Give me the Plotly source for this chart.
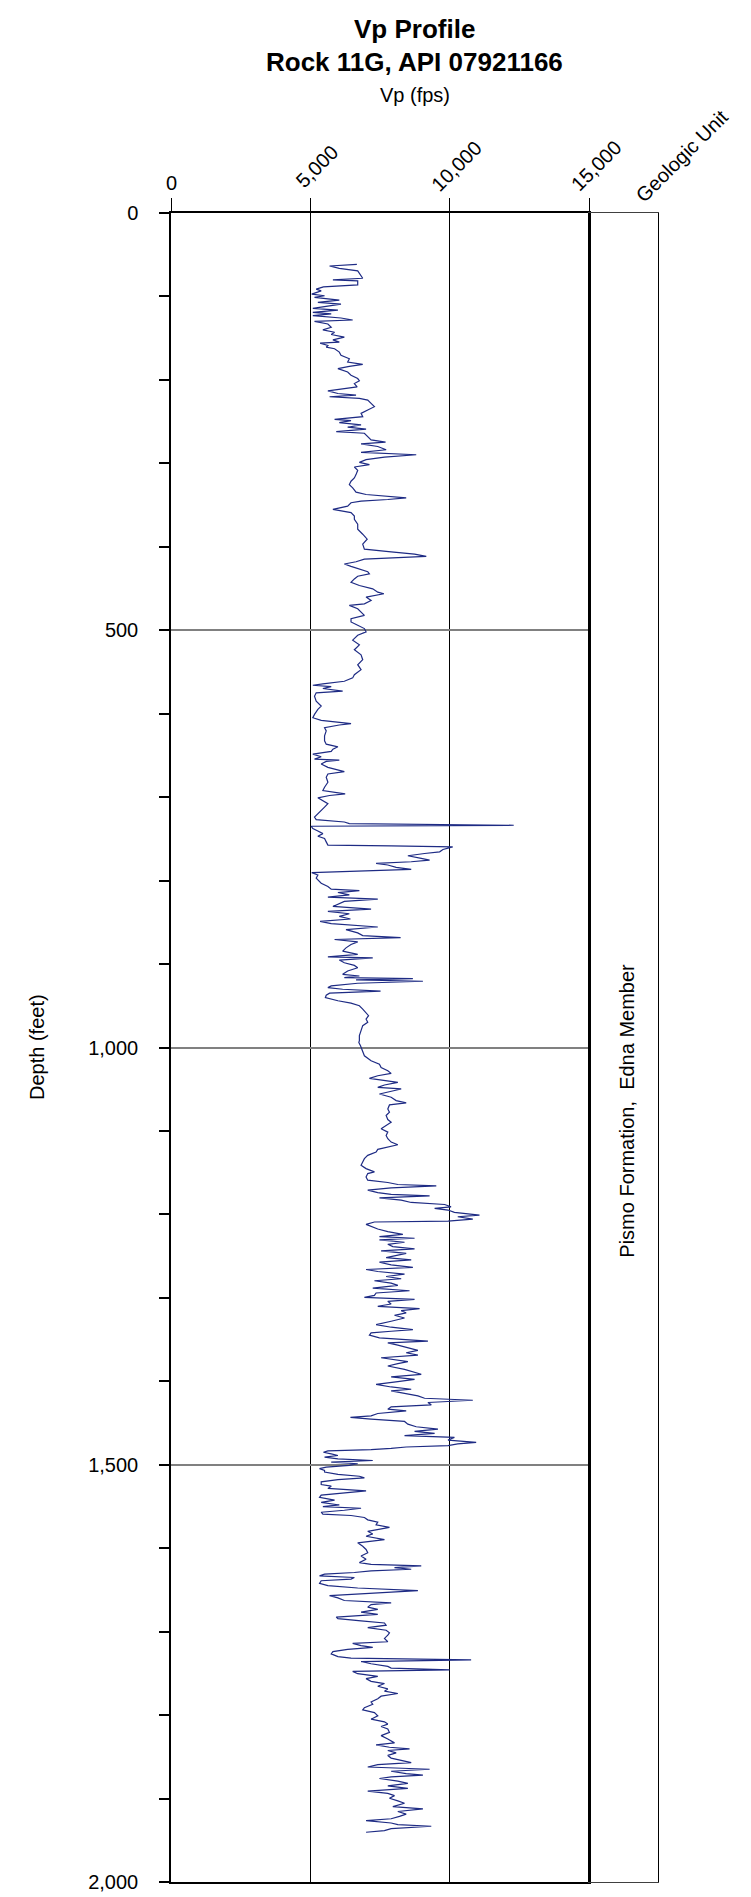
import plotly.graph_objects as go

# ---------------- data: (depth ft, Vp fps) ----------------
vp_log_0_515 = [
    (61.5, 6670), (63.5, 5690), (66.3, 6040), (69.4, 6700), (78.2, 6880), (80.2, 5810), (81.3, 6700),
    (86.1, 6700), (88.5, 5470), (91.3, 5210), (93.3, 5390), (97.2, 5050), (99.2, 5510), (101.2, 5150),
    (104.4, 6040), (107.1, 5270), (109.1, 6100), (112.3, 5510), (114.3, 5090), (116.3, 5990), (119.0, 5090),
    (121.0, 5750), (123.0, 5090), (125.8, 6100), (128.2, 6520), (129.8, 5150), (133.0, 5630), (136.9, 5750),
    (140.1, 5450), (142.9, 5870), (145.6, 5750), (148.8, 6220), (152.0, 5810), (154.8, 6040), (156.0, 5350),
    (158.7, 5630), (160.7, 5570), (162.7, 5870), (166.7, 6040), (170.6, 6100), (174.6, 6400), (178.6, 6340),
    (181.3, 6880), (183.7, 6400), (186.5, 5990), (190.5, 6340), (194.4, 6460), (198.4, 6700), (201.2, 6760),
    (204.4, 6580), (208.3, 6680), (213.1, 5630), (216.3, 5990), (218.3, 6640), (220.2, 5690), (222.2, 6760),
    (224.2, 7060), (228.2, 7180), (232.1, 7300), (236.1, 7060), (240.1, 6820), (244.0, 6880), (247.2, 5870),
    (248.8, 6460), (251.2, 6040), (254.0, 6820), (256.7, 6340), (259.1, 7000), (261.9, 5930), (263.9, 6940),
    (267.9, 7060), (271.8, 7180), (274.6, 7700), (276.6, 6820), (279.8, 7420), (283.7, 7720), (286.9, 6820),
    (289.7, 8800), (292.5, 7660), (295.6, 7000), (298.8, 6760), (301.6, 7120), (304.4, 6580), (308.3, 6700),
    (313.5, 6640), (317.5, 6580), (321.4, 6460), (325.4, 6400), (329.4, 6520), (334.5, 6640), (337.3, 7000),
    (339.3, 7660), (341.3, 8440), (343.3, 7780), (345.2, 6820), (347.2, 6460), (351.2, 6340), (355.2, 5810),
    (357.1, 6100), (359.1, 6460), (363.1, 6580), (367.1, 6580), (373.0, 6700), (379.0, 6700), (384.9, 6880),
    (390.9, 7040), (396.8, 6880), (402.8, 6940), (406.0, 7900), (408.7, 8740), (411.5, 9160), (414.7, 6940),
    (417.9, 6640), (420.6, 6220), (423.4, 6460), (426.6, 6760), (429.8, 7060), (432.5, 7120), (435.3, 6700),
    (438.5, 6580), (442.5, 6460), (446.4, 6760), (450.4, 7240), (454.4, 7420), (456.3, 7640), (460.3, 7000),
    (464.3, 7180), (468.3, 6940), (470.2, 6400), (474.2, 6700), (478.2, 6820), (482.1, 6940), (486.1, 6460),
    (490.1, 6460), (494.0, 6700), (498.0, 6940), (502.0, 7000), (506.0, 6700), (511.9, 6520),
]

vp_log_515_995 = [
    (517.5, 6760), (523.4, 6580), (529.4, 6820), (535.3, 6880), (541.3, 6700), (547.2, 6820), (553.2, 6580),
    (557.1, 6520), (561.1, 6220), (564.3, 5450), (565.9, 5090), (567.5, 5750), (569.8, 5450), (573.0, 6160),
    (575.0, 5210), (579.0, 5150), (584.9, 5210), (590.9, 5390), (594.8, 5270), (600.8, 5150), (604.8, 5090),
    (607.9, 5390), (610.7, 6100), (611.9, 6460), (613.5, 6040), (616.7, 5510), (620.6, 5570), (626.6, 5510),
    (632.5, 5510), (636.5, 5570), (639.7, 5990), (642.5, 5810), (645.2, 5750), (648.4, 5090), (651.6, 5390),
    (654.4, 5150), (655.6, 6040), (657.1, 5570), (660.3, 5390), (664.3, 5630), (669.4, 6220), (672.2, 5630),
    (676.2, 5570), (682.1, 5630), (688.1, 5510), (692.1, 5450), (696.0, 6250), (698.0, 5690), (700.8, 5270),
    (704.0, 5450), (707.9, 5630), (711.9, 5510), (715.9, 5390), (719.8, 5270), (723.8, 5150), (727.0, 5210),
    (729.8, 6220), (731.7, 6400), (733.7, 12300), (734.9, 5030), (737.7, 5090), (740.5, 5270), (743.7, 5450),
    (746.8, 5270), (749.6, 5510), (753.6, 5570), (757.5, 5630), (758.3, 7900), (759.5, 10110), (762.7, 9760),
    (765.5, 9640), (767.5, 9100), (770.2, 8500), (773.4, 8980), (775.4, 9280), (777.4, 8620), (779.4, 7360),
    (781.3, 7780), (784.1, 8080), (786.5, 8620), (789.3, 5510), (790.5, 5050), (793.3, 5270), (797.2, 5210),
    (803.2, 5390), (807.1, 5630), (810.3, 5750), (811.9, 6760), (814.3, 5990), (817.1, 6400), (819.8, 5630),
    (822.2, 7420), (825.0, 6220), (827.8, 6040), (831.0, 5810), (834.1, 7180), (836.9, 5630), (839.7, 6400),
    (842.9, 6040), (846.0, 6440), (848.8, 5350), (851.6, 5750), (855.6, 7420), (858.7, 6280), (862.7, 6700),
    (865.9, 6880), (868.3, 8240), (870.6, 5870), (873.4, 6700), (876.6, 6460), (880.6, 6280), (884.5, 6160),
    (888.5, 6700), (891.3, 5630), (892.5, 7240), (895.2, 6040), (898.4, 6220), (901.6, 6580), (904.4, 6700),
    (908.3, 6340), (912.3, 6160), (914.3, 6760), (916.3, 6220), (917.5, 8680), (919.0, 6640), (920.6, 9040),
    (923.0, 6700), (926.2, 5750), (928.2, 5630), (930.2, 6160), (932.5, 7520), (934.9, 5690), (937.3, 5570),
    (940.1, 5540), (944.0, 5990), (946.8, 6460), (950.0, 6760), (954.0, 6880), (957.9, 7000), (961.9, 7090),
    (965.9, 7000), (969.8, 7060), (973.8, 6880), (979.8, 6820), (985.7, 6760), (991.7, 6760),
]

vp_log_995_1472 = [
    (994.0, 6740), (998.0, 6800), (1004.0, 6880), (1009.9, 6940), (1015.9, 7180), (1019.9, 7480),
    (1023.9, 7540), (1027.8, 7780), (1031.0, 7900), (1033.8, 7420), (1037.0, 7120), (1039.8, 7660),
    (1041.7, 8140), (1044.9, 7660), (1047.7, 7420), (1049.7, 8260), (1052.9, 7780), (1055.7, 7480),
    (1059.6, 7900), (1063.6, 8080), (1066.4, 8440), (1068.8, 7840), (1073.6, 7780), (1077.5, 7840),
    (1081.5, 7720), (1086.3, 7780), (1089.5, 7900), (1093.4, 7720), (1097.4, 7540), (1101.4, 7780),
    (1105.4, 7720), (1109.3, 7780), (1113.3, 7900), (1116.5, 8140), (1119.3, 7780), (1122.1, 7420),
    (1125.2, 7360), (1129.2, 7060), (1133.2, 6940), (1137.2, 6880), (1141.2, 6820), (1145.1, 7000),
    (1149.1, 7300), (1151.1, 7060), (1155.1, 7000), (1159.0, 7060), (1161.8, 7780), (1164.2, 8140),
    (1165.8, 9520), (1168.2, 7900), (1171.0, 7060), (1173.8, 7420), (1176.1, 7900), (1177.7, 9280),
    (1180.1, 7480), (1182.9, 8260), (1185.7, 8620), (1188.1, 9820), (1190.9, 10050), (1192.8, 9460),
    (1194.8, 9940), (1197.6, 10170), (1200.0, 10770), (1200.8, 11070), (1202.8, 10290), (1205.6, 10830),
    (1208.0, 9940), (1209.1, 7300), (1211.9, 7000), (1214.7, 7240), (1217.5, 7420), (1220.7, 7780),
    (1223.9, 8320), (1226.6, 7480), (1228.6, 8740), (1230.6, 7480), (1233.4, 8380), (1235.8, 7780),
    (1238.6, 7960), (1241.4, 8740), (1243.8, 7540), (1246.6, 8440), (1249.3, 8020), (1251.7, 7720),
    (1254.5, 8620), (1257.3, 7480), (1260.4, 7900), (1263.6, 8680), (1266.0, 7000), (1268.4, 7420),
    (1271.6, 8380), (1274.4, 7720), (1277.1, 8260), (1279.5, 7300), (1282.3, 7900), (1285.1, 8140),
    (1288.3, 7240), (1291.5, 8560), (1294.2, 7360), (1297.0, 7300), (1299.4, 6940), (1301.8, 8740),
    (1304.2, 7780), (1307.4, 7900), (1310.1, 7420), (1312.9, 8920), (1315.3, 8260), (1318.1, 8440),
    (1320.9, 8020), (1324.1, 8380), (1328.0, 7900), (1332.0, 7360), (1335.2, 7900), (1338.0, 8680),
    (1340.0, 7900), (1341.9, 7180), (1344.7, 7120), (1347.9, 7480), (1351.9, 9220), (1353.9, 7780),
    (1356.7, 8140), (1359.8, 8500), (1363.0, 8860), (1365.8, 8440), (1368.6, 8860), (1371.8, 7540),
    (1373.8, 8020), (1376.5, 8500), (1378.9, 8140), (1381.7, 7780), (1385.7, 8380), (1388.5, 8680),
    (1391.6, 8980), (1394.8, 7900), (1397.6, 8740), (1400.4, 8140), (1403.6, 7360), (1406.8, 7900),
    (1409.5, 8620), (1411.5, 7900), (1414.7, 8380), (1417.5, 8860), (1420.3, 9100), (1422.7, 10830),
    (1425.4, 9220), (1428.2, 9340), (1430.6, 7900), (1433.4, 7780), (1435.4, 8440), (1438.6, 7420),
    (1441.4, 7180), (1443.3, 6440), (1445.3, 7180), (1448.1, 8380), (1451.3, 8500), (1454.5, 8800),
    (1457.3, 9580), (1460.1, 8740), (1462.4, 9460), (1465.2, 8380), (1467.2, 10170), (1470.4, 9940),
]

vp_log_1472_1941 = [
    (1473.1, 10950), (1475.1, 10290), (1477.1, 9940), (1478.7, 8440), (1480.3, 7900), (1481.8, 7180),
    (1483.4, 5630), (1485.0, 5470), (1487.0, 5750), (1488.9, 5990), (1490.9, 5510), (1492.9, 5990),
    (1494.9, 7240), (1496.8, 5750), (1498.8, 6700), (1500.8, 6400), (1502.8, 5570), (1504.7, 5330),
    (1506.7, 5510), (1508.7, 5510), (1511.5, 5990), (1513.8, 6760), (1515.8, 6940), (1517.8, 5990),
    (1520.5, 5390), (1523.7, 5390), (1525.7, 5750), (1528.4, 5630), (1531.2, 7000), (1533.6, 6220),
    (1536.3, 5390), (1539.1, 5330), (1542.3, 5870), (1545.0, 5390), (1548.2, 6040), (1550.2, 5450),
    (1552.1, 6820), (1554.5, 6220), (1556.9, 5390), (1559.2, 5450), (1560.8, 6460), (1563.2, 6940),
    (1566.0, 7060), (1568.7, 7420), (1571.9, 7360), (1575.0, 7840), (1577.8, 7420), (1579.8, 7060),
    (1582.9, 7240), (1585.7, 7000), (1589.7, 7660), (1593.6, 6700), (1597.6, 6880), (1601.5, 7000),
    (1605.5, 7060), (1609.4, 6820), (1613.3, 7000), (1617.3, 6760), (1619.3, 7180), (1621.2, 8980),
    (1623.2, 8020), (1625.2, 8620), (1627.2, 7180), (1629.1, 6580), (1631.1, 5510), (1633.1, 5330),
    (1635.1, 6580), (1637.0, 6460), (1639.0, 5390), (1642.2, 5330), (1644.9, 5630), (1647.7, 6700),
    (1650.9, 8860), (1654.0, 6940), (1656.8, 5690), (1659.6, 5990), (1662.7, 6220), (1665.5, 7900),
    (1667.5, 7180), (1670.6, 7060), (1673.4, 7420), (1676.5, 6820), (1679.3, 7420), (1682.5, 5930),
    (1684.4, 5990), (1687.2, 6820), (1689.6, 7660), (1692.3, 7720), (1695.1, 7060), (1698.3, 7720),
    (1701.4, 7840), (1704.2, 7780), (1708.1, 7660), (1712.1, 7780), (1714.1, 6520), (1716.8, 6820),
    (1718.8, 7240), (1721.2, 6340), (1723.9, 5810), (1726.7, 5750), (1729.9, 5990), (1731.8, 6460),
    (1733.8, 10770), (1735.8, 6820), (1738.5, 7180), (1741.7, 7780), (1743.7, 7900), (1745.7, 10000),
    (1747.6, 6520), (1750.4, 6700), (1753.6, 7420), (1756.3, 7000), (1759.5, 7180), (1762.2, 7660),
    (1765.4, 7420), (1768.6, 7780), (1771.3, 7660), (1774.1, 8140), (1777.3, 7540), (1780.4, 7420),
    (1784.4, 7180), (1787.1, 7240), (1791.1, 6940), (1793.8, 6880), (1797.0, 7300), (1800.9, 7420),
    (1804.9, 7180), (1808.1, 7660), (1810.8, 7780), (1813.6, 7540), (1816.7, 7780), (1820.7, 7840),
    (1824.6, 7540), (1828.6, 7780), (1833.3, 8020), (1835.7, 7360), (1838.5, 7840), (1840.4, 8560),
    (1842.4, 7780), (1845.2, 8080), (1848.3, 7780), (1851.5, 7900), (1854.3, 8260), (1857.0, 8620),
    (1859.4, 7420), (1862.2, 7060), (1864.9, 9280), (1867.3, 7900), (1870.1, 8440), (1872.0, 9040),
    (1874.0, 7900), (1876.0, 7480), (1879.1, 8140), (1881.9, 8500), (1884.7, 7780), (1887.8, 8500),
    (1891.0, 7060), (1893.8, 7780), (1896.5, 8020), (1899.7, 7840), (1902.8, 8140), (1905.6, 8380),
    (1909.6, 7960), (1912.3, 9040), (1915.5, 8140), (1918.6, 8440), (1921.4, 8200), (1924.2, 7900),
    (1926.5, 7000), (1929.3, 7900), (1931.3, 8140), (1933.2, 9340), (1936.0, 7900), (1938.4, 7660),
    (1940.4, 7000),
]

vp_tick_values = [0, 5000, 10000, 15000]
vp_tick_labels = ["0", "5,000", "10,000", "15,000"]
depth_tick_values = [0, 500, 1000, 1500, 2000]
depth_tick_labels = ["0", "500", "1,000", "1,500", "2,000"]
geologic_unit = "Pismo Formation,  Edna Member"

# ---------------- assemble ----------------
segments = [vp_log_0_515, vp_log_515_995, vp_log_995_1472, vp_log_1472_1941]
depth = [d for seg in segments for d, _ in seg]
vp = [v for seg in segments for _, v in seg]

W, H = 751, 1897
L, R, T, B = 163, 650, 205, 1882
X_SPLIT = 581


def pyp(px):
    return 1 - (px - T) / (B - T)


def pxp(px):
    return (px - L) / (R - L)


FONT = "Arial, 'Liberation Sans', sans-serif"

fig = go.Figure()
fig.add_trace(go.Scatter(
    x=vp, y=depth, mode="lines",
    line=dict(color="#1E2B84", width=1.2),
    xaxis="x", yaxis="y", showlegend=False, hoverinfo="skip",
))
# empty trace so that the geologic-unit column is drawn
fig.add_trace(go.Scatter(x=[], y=[], mode="lines", xaxis="x2", yaxis="y2",
                         showlegend=False, hoverinfo="skip"))

minor_depths = [d for d in range(0, 2001, 100) if d % 500 != 0]

fig.update_layout(
    width=W, height=H,
    margin=dict(l=L, r=W - R, t=T, b=H - B, pad=0),
    paper_bgcolor="white", plot_bgcolor="white",
    showlegend=False,
    font=dict(family=FONT, size=20, color="black"),
    xaxis=dict(
        domain=[0, pxp(X_SPLIT)], range=[0, 15000], side="top", anchor="y",
        tickmode="array", tickvals=vp_tick_values, showticklabels=False,
        ticks="outside", ticklen=13, tickwidth=1, tickcolor="black",
        showgrid=True, gridcolor="black", gridwidth=1,
        showline=True, linecolor="black", linewidth=2, mirror=True,
        zeroline=False,
    ),
    yaxis=dict(
        domain=[0, 1], range=[2000, 0], anchor="x",
        tickmode="array", tickvals=depth_tick_values, ticktext=depth_tick_labels,
        ticks="outside", ticklen=10, tickwidth=1.5, tickcolor="black",
        minor=dict(tickmode="array", tickvals=minor_depths, ticks="outside", ticklen=10,
                   tickwidth=1.5, tickcolor="black", showgrid=False),
        showgrid=True, gridcolor="#808080", gridwidth=1.5,
        showline=True, linecolor="black", linewidth=1.5, mirror=True,
        zeroline=False, ticklabelstandoff=17, tickfont=dict(size=20),
    ),
    xaxis2=dict(
        domain=[pxp(X_SPLIT), 1], range=[0, 1], side="top", anchor="y2",
        showticklabels=False, ticks="",
        showgrid=False, showline=True, linecolor="#404040", linewidth=1, mirror=True,
        zeroline=False,
    ),
    yaxis2=dict(
        domain=[0, 1], range=[2000, 0], anchor="x2",
        showticklabels=False, ticks="", showgrid=False,
        showline=True, linecolor="black", linewidth=1, mirror=True, zeroline=False,
    ),
)

annotations = [
    dict(text="<b>Vp Profile</b>", x=0.5, y=pyp(20), font=dict(size=26)),
    dict(text="<b>Rock 11G, API 07921166</b>", x=0.5, y=pyp(53), font=dict(size=26)),
    dict(text="Vp (fps)", x=0.5, y=pyp(86), font=dict(size=20)),
    dict(text="Depth (feet)", x=pxp(29), y=pyp(1043), textangle=-90, font=dict(size=20)),
    dict(text=geologic_unit, x=pxp(619), y=pyp(1107), textangle=-90, font=dict(size=20)),
]
for a in annotations:
    fig.add_annotation(xref="paper", yref="paper", showarrow=False,
                       xanchor="center", yanchor="middle", **a)

# Vp tick labels: "0" upright, the others slanted
fig.add_annotation(text=vp_tick_labels[0], xref="x", yref="paper", x=vp_tick_values[0],
                   y=pyp(175), showarrow=False, xanchor="center", yanchor="middle",
                   font=dict(size=20))
for val, lab in zip(vp_tick_values[1:], vp_tick_labels[1:]):
    fig.add_annotation(text=lab, xref="x", yref="paper", x=val, xshift=7, y=pyp(158),
                       textangle=-45, showarrow=False, xanchor="center", yanchor="middle",
                       font=dict(size=20))
fig.add_annotation(text="Geologic Unit", xref="x2", yref="paper", x=1, xshift=24, y=pyp(148),
                   textangle=-45, showarrow=False, xanchor="center", yanchor="middle",
                   font=dict(size=20))

fig.write_html("out.html")
